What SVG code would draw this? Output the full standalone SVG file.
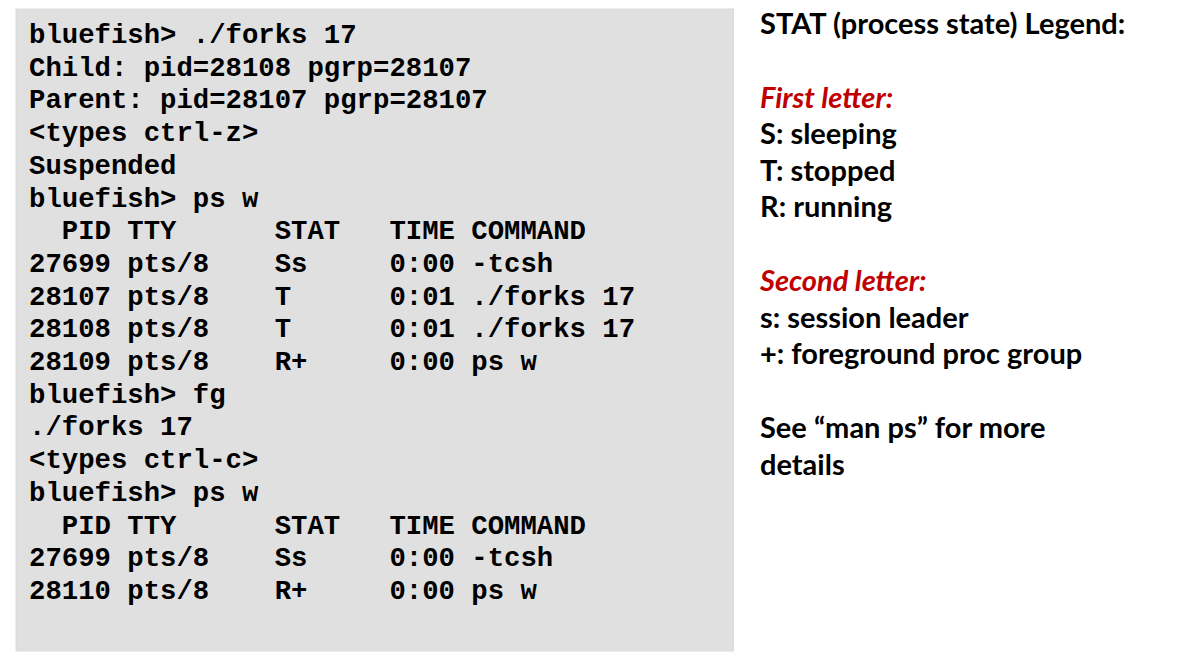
<svg xmlns="http://www.w3.org/2000/svg" width="1177" height="658" viewBox="0 0 1177 658">
<style>
.mono{font-family:"Liberation Mono","Courier New",monospace;font-weight:bold;font-size:27.3px;fill:#000;white-space:pre}
.leg{font-family:Lato,"Noto Sans",sans-serif;font-weight:bold;font-size:29px;fill:#000}
.red{fill:#c00000;font-style:italic}
</style>
<rect width="1177" height="658" fill="#fff"/>
<g id="terminal">
<rect x="16" y="9" width="717.5" height="642" fill="#e0e0e0" stroke="#d6d6d6" stroke-width="0.8"/>
<text class="mono" x="29" xml:space="preserve"><tspan x="29" y="43">bluefish&gt; ./forks 17</tspan><tspan x="29" y="75.7">Child: pid=28108 pgrp=28107</tspan><tspan x="29" y="108.4">Parent: pid=28107 pgrp=28107</tspan><tspan x="29" y="141.1">&lt;types ctrl-z&gt;</tspan><tspan x="29" y="173.8">Suspended</tspan><tspan x="29" y="206.5">bluefish&gt; ps w</tspan><tspan x="29" y="239.2">  PID TTY      STAT   TIME COMMAND</tspan><tspan x="29" y="271.9">27699 pts/8    Ss     0:00 -tcsh</tspan><tspan x="29" y="304.6">28107 pts/8    T      0:01 ./forks 17</tspan><tspan x="29" y="337.3">28108 pts/8    T      0:01 ./forks 17</tspan><tspan x="29" y="370">28109 pts/8    R+     0:00 ps w</tspan><tspan x="29" y="402.7">bluefish&gt; fg</tspan><tspan x="29" y="435.4">./forks 17</tspan><tspan x="29" y="468.1">&lt;types ctrl-c&gt;</tspan><tspan x="29" y="500.8">bluefish&gt; ps w</tspan><tspan x="29" y="533.5">  PID TTY      STAT   TIME COMMAND</tspan><tspan x="29" y="566.2">27699 pts/8    Ss     0:00 -tcsh</tspan><tspan x="29" y="598.9">28110 pts/8    R+     0:00 ps w</tspan></text>
</g>
<g id="legend">
<text class="leg" x="760" y="34">STAT (process state) Legend:</text>
<text class="leg red" x="760" y="108">First letter:</text>
<text class="leg" x="760" y="144">S: sleeping</text>
<text class="leg" x="760" y="180.5">T: stopped</text>
<text class="leg" x="760" y="217">R: running</text>
<text class="leg red" x="760" y="291">Second letter:</text>
<text class="leg" x="760" y="328">s: session leader</text>
<text class="leg" x="760" y="364">+: foreground proc group</text>
<text class="leg" x="760" y="438">See “man ps” for more</text>
<text class="leg" x="760" y="475">details</text>
</g>
</svg>
